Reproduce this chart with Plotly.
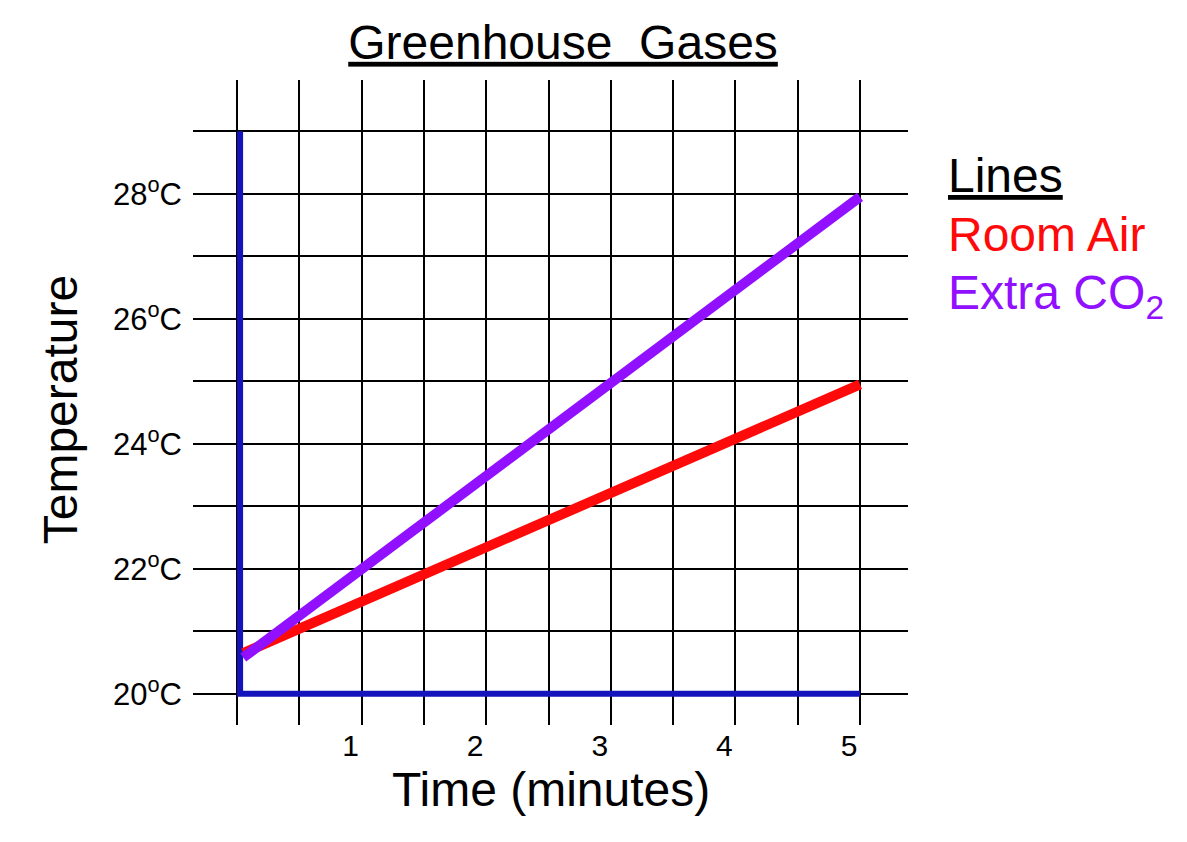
import plotly.graph_objects as go

# chart data
time_min = [0.05, 5.0]
room_air = [20.65, 24.95]
extra_co2 = [20.58, 27.95]

# hand drawn axis lines (corner points)
axis_x = [0.025, 0.025, 5.0]
axis_y = [29.0, 20.0, 20.0]

x_ticks = [1, 2, 3, 4, 5]
x_labels = ["1", "2", "3", "4", "5"]
y_ticks = [20, 22, 24, 26, 28]
y_labels = ["20<sup>o</sup>C", "22<sup>o</sup>C", "24<sup>o</sup>C",
            "26<sup>o</sup>C", "28<sup>o</sup>C"]

FONT = "Liberation Sans, Arial, sans-serif"
RED = "#ff0a0a"
PURPLE = "#9010ff"

fig = go.Figure()
fig.add_trace(go.Scatter(x=axis_x, y=axis_y, mode="lines",
                         line=dict(color="#1414bc", width=6), hoverinfo="skip"))
fig.add_trace(go.Scatter(x=time_min, y=room_air, mode="lines", name="Room Air",
                         line=dict(color=RED, width=10)))
fig.add_trace(go.Scatter(x=time_min, y=extra_co2, mode="lines", name="Extra CO2",
                         line=dict(color=PURPLE, width=10)))

grid = dict(showgrid=True, gridcolor="black", gridwidth=2)

fig.update_layout(
    width=1187, height=842,
    margin=dict(l=185, r=287, t=72, b=125),
    paper_bgcolor="white", plot_bgcolor="white",
    showlegend=False,
    font=dict(family=FONT, color="black"),
    title=dict(text="<u>Greenhouse\u00a0 Gases</u>", font=dict(size=48),
               x=0.4676, xref="container", xanchor="center",
               y=0.9596, yref="container", yanchor="middle"),
    xaxis=dict(range=[-0.353, 5.385], tickmode="array", tickvals=x_ticks, ticktext=x_labels,
               zeroline=False, showline=False, ticks="", tickfont=dict(size=30),
               ticklabelshift=-11, **grid,
               minor=dict(tick0=0, dtick=0.5, ticks="", **grid)),
    yaxis=dict(range=[19.5, 29.82], tickmode="array", tickvals=y_ticks, ticktext=y_labels,
               zeroline=False, showline=False, ticks="", tickfont=dict(size=31),
               ticklabelstandoff=10, **grid,
               minor=dict(tick0=20, dtick=1, ticks="", **grid)),
)

# axis titles
fig.add_annotation(text="Time (minutes)", xref="paper", yref="paper", x=0.5, y=-0.10,
                   showarrow=False, font=dict(size=48), xanchor="center", yanchor="middle")
fig.add_annotation(text="Temperature", xref="paper", yref="paper", x=-0.186, y=0.488,
                   showarrow=False, textangle=-90, font=dict(size=48),
                   xanchor="center", yanchor="middle")

# key at the right
fig.add_annotation(text="<u>Lines</u>", xref="paper", yref="paper", x=1.053, y=0.852,
                   showarrow=False, font=dict(size=48, color="black"),
                   xanchor="left", yanchor="middle")
fig.add_annotation(text="Room Air", xref="paper", yref="paper", x=1.053, y=0.760,
                   showarrow=False, font=dict(size=48, color=RED),
                   xanchor="left", yanchor="middle")
fig.add_annotation(text="Extra CO<sub>2</sub>", xref="paper", yref="paper", x=1.053, y=0.665,
                   showarrow=False, font=dict(size=48, color=PURPLE),
                   xanchor="left", yanchor="middle")

fig.write_html("out.html")
